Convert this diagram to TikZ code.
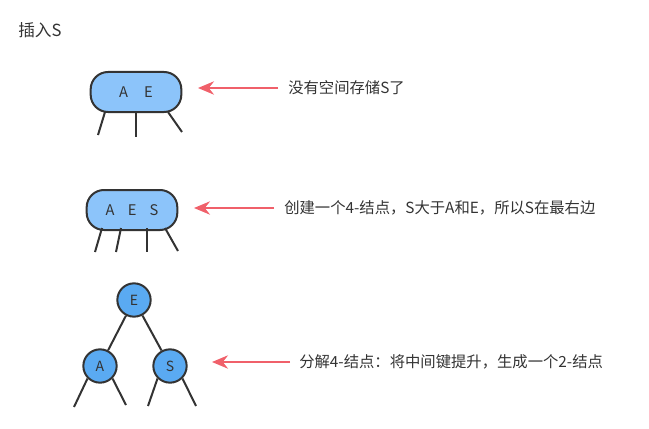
\documentclass[tikz,border=0pt]{standalone}
\usepackage{fontspec}
\setmainfont{Noto Sans CJK SC}
\usetikzlibrary{arrows.meta}
\definecolor{nodeblue}{HTML}{8CC4FA}
\definecolor{circblue}{HTML}{5AAAF2}
\definecolor{arrred}{HTML}{F0606A}
\definecolor{txt}{HTML}{333333}
\tikzset{
  kbox/.style={draw=black!80, line width=1.5pt, fill=nodeblue, rounded corners=13pt, minimum height=30pt, inner sep=0pt, text=txt, font=\fontsize{11}{12}\selectfont},
  kcirc/.style={draw=black!80, line width=1.5pt, fill=circblue, circle, minimum size=25pt, inner sep=0pt, text=txt, font=\fontsize{10.5}{12}\selectfont},
  leg/.style={line width=1.5pt, draw=black!80},
  redarr/.style={draw=arrred, line width=1.5pt, -{Stealth[length=12pt,width=10pt]}},
  lbl/.style={anchor=west, text=txt, font=\fontsize{11.5}{13}\selectfont, inner sep=0pt}
}
\begin{document}
\begin{tikzpicture}[x=0.75pt,y=-0.75pt]
\useasboundingbox (0,0) rectangle (649,428);
\node[anchor=west, text=txt, font=\fontsize{12.5}{14}\selectfont, inner sep=0pt] (title) at (18,30) {插入S};
% node 1
\node[kbox, minimum width=68pt] (n1) at (136,92) {A\hspace{12pt}E};
\draw[leg] (105,112) -- (98,135);
\draw[leg] (136,112) -- (136,137);
\draw[leg] (168,112) -- (182,132);
\node[lbl] (t1) at (288,88) {没有空间存储S了};
\draw[redarr] (278,88) -- (198,88);
% node 2
\node[kbox, minimum width=68pt] (n2) at (132,210) {A\hspace{10pt}E\hspace{10pt}S};
\draw[leg] (102,228) -- (95,252);
\draw[leg] (121,228) -- (116,252);
\draw[leg] (147,228) -- (147,252);
\draw[leg] (165,228) -- (178,251);
\node[lbl] (t2) at (284,208) {创建一个4-结点，S大于A和E，所以S在最右边};
\draw[redarr] (274,208) -- (194,208);
% tree
\node[kcirc] (E) at (134,300) {E};
\node[kcirc] (A) at (100,366) {A};
\node[kcirc] (S) at (170,366) {S};
\draw[leg] (E) -- (A);
\draw[leg] (E) -- (S);
\draw[leg] (A.south west) -- (74,407);
\draw[leg] (A.south east) -- (126,405);
\draw[leg] (S.south west) -- (148,406);
\draw[leg] (S.south east) -- (196,406);
\node[lbl] (t3) at (299,362) {分解4-结点：将中间键提升，生成一个2-结点};
\draw[redarr] (290,362) -- (212,362);
\end{tikzpicture}
\end{document}
